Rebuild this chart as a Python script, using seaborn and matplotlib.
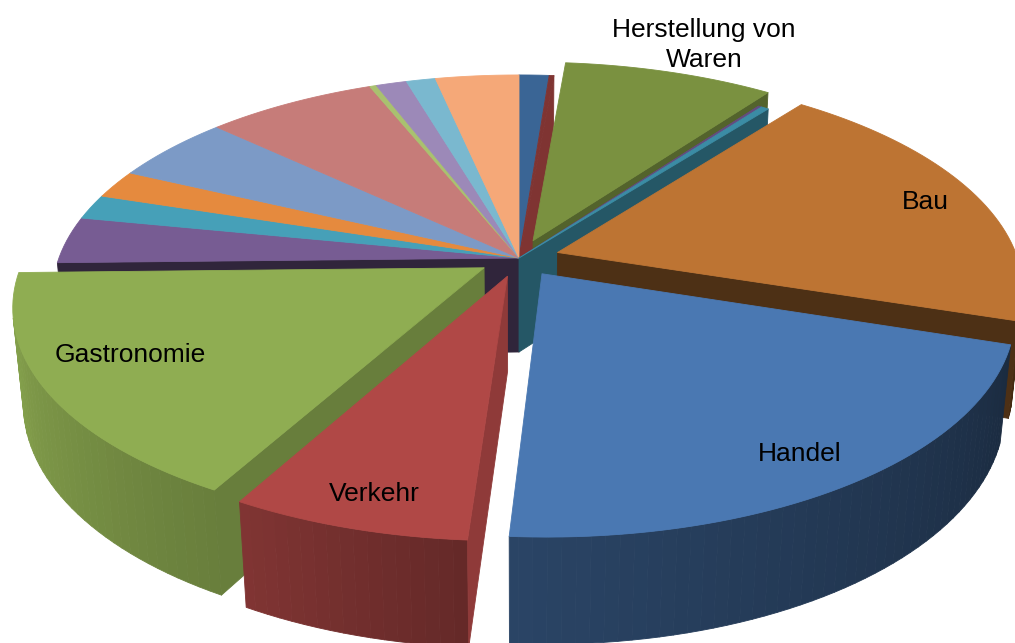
import numpy as np
import matplotlib
matplotlib.use("Agg")
import matplotlib.pyplot as plt
import seaborn as sns

# ---------- data (share of total, percent, clockwise from 12 o'clock) ----------
categories = ["", "", "Herstellung von\nWaren", "", "", "Bau", "Handel", "Verkehr",
              "Gastronomie", "", "", "", "", "", "", "", "", ""]
shares = [1.22, 0.19, 8.64, 0.14, 0.31, 19.47, 21.08, 7.00, 16.58,
          3.44, 1.83, 2.08, 4.94, 6.94, 0.28, 1.25, 1.19, 3.39]
exploded = [0, 0, 1, 0, 0, 1, 1, 1, 1, 0, 0, 0, 0, 0, 0, 0, 0, 0]
colors = ["#3A6595", "#7F3432", "#7A9140", "#644C81", "#3B8CA5", "#BD7433", "#4A78B2",
          "#B04846", "#8FAD52", "#775C93", "#46A0B8", "#E58A3E", "#7C9AC6", "#C67C79",
          "#A9C16F", "#9C89B8", "#7AB8CF", "#F5A878"]
side_shade = [.5, 1.0, .68, .4, .62, .41, .5, .81, .73, .40, .6, .6, .6, .6, .6, .6, .6, .6]

# ---------- 3-D layout ----------
W, H = 1015, 643
CX, CY = 519, 258
ELEV = np.radians(27.66)
DIST = 5.31
FOCAL = 2443
DEPTH = 0.2354
EXPLODE = 0.088
DRAW_ORDER = [0, 1, 9, 10, 11, 12, 13, 14, 15, 16, 17, 2, 3, 4, 5, 8, 7, 6]
CAMERA = np.array([0, DIST * np.cos(ELEV), DIST * np.sin(ELEV)])
SHADE_ANGLE = [100, 108, 184, 209, 270, 300]
SHADE_VALUE = [.36, .36, .57, .73, .98, .98]
LABEL_POS = {2: (704, 45), 5: (925, 202), 6: (800, 454), 7: (374, 494), 8: (130, 355)}


def project(x, y, z):
    x, y, z = np.asarray(x, float), np.asarray(y, float), np.asarray(z, float)
    yc = -y * np.sin(ELEV) + z * np.cos(ELEV)
    zc = DIST - y * np.cos(ELEV) - z * np.sin(ELEV)
    return CX + FOCAL * x / zc, CY - FOCAL * yc / zc


def scaled(color, k):
    return tuple(np.clip(np.array(matplotlib.colors.to_rgb(color)) * k, 0, 1))


def fill(ax, x, y, z, color):
    sx, sy = project(x, y, z)
    ax.fill(sx, sy, color=color, lw=0.6, ec=color, joinstyle="round")


sns.set_theme(style="white")
plt.rcParams["font.family"] = ["Liberation Sans", "DejaVu Sans"]
palette = sns.color_palette(colors)

fig = plt.figure(figsize=(W / 100, H / 100), dpi=100)
ax = fig.add_axes([0, 0, 1, 1])
ax.set_xlim(0, W)
ax.set_ylim(H, 0)
ax.axis("off")

edges = np.concatenate([[0], np.cumsum(shares)]) / np.sum(shares) * 360
n = len(shares)

for i in DRAW_ORDER:
    a0, a1 = edges[i], edges[i + 1]
    mid = np.radians((a0 + a1) / 2)
    off = EXPLODE * exploded[i]
    ax0, ay0 = off * np.sin(mid), -off * np.cos(mid)
    col = palette[i]
    angs = np.arange(a0, a1, 1.5)
    angs = np.append(angs, a1)
    t = np.radians(angs)
    rx, ry = ax0 + np.sin(t), ay0 - np.cos(t)

    # outer wall, strip by strip
    for k in range(len(t) - 1):
        tm = (t[k] + t[k + 1]) / 2
        nrm = np.array([np.sin(tm), -np.cos(tm), 0])
        p = np.array([ax0 + np.sin(tm), ay0 - np.cos(tm), 0])
        if np.dot(CAMERA - p, nrm) > 0:
            s = np.interp(np.degrees(tm), SHADE_ANGLE, SHADE_VALUE)
            fill(ax, [rx[k], rx[k + 1], rx[k + 1], rx[k]], [ry[k], ry[k + 1], ry[k + 1], ry[k]],
                 [0, 0, -DEPTH, -DEPTH], scaled(col, s))

    # radial walls: only where this slice or its neighbour has been pulled out
    for ang, side, nb in ((a0, -1, (i - 1) % n), (a1, 1, (i + 1) % n)):
        if not (exploded[i] or exploded[nb]):
            continue
        tt = np.radians(ang)
        nrm = side * np.array([np.cos(tt), np.sin(tt), 0])
        p = np.array([ax0, ay0, 0])
        if np.dot(CAMERA - p, nrm) > 0:
            ex, ey = ax0 + np.sin(tt), ay0 - np.cos(tt)
            fill(ax, [ax0, ex, ex, ax0], [ay0, ey, ey, ay0], [0, 0, -DEPTH, -DEPTH],
                 scaled(col, side_shade[i]))

    # top face
    fill(ax, np.r_[ax0, rx], np.r_[ay0, ry], np.zeros(len(rx) + 1), col)

for i, (lx, ly) in LABEL_POS.items():
    ax.text(lx, ly, categories[i], ha="center", va="center", fontsize=19, color="black",
            linespacing=1.33)

fig.savefig("out.png", dpi=100, facecolor="white")
